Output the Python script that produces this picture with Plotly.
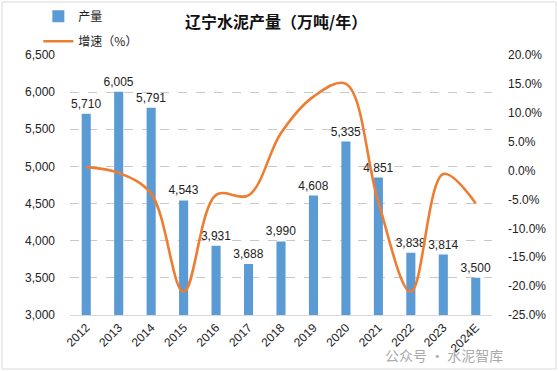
import plotly.graph_objects as go

years = ["2012", "2013", "2014", "2015", "2016", "2017", "2018", "2019", "2020", "2021", "2022", "2023", "2024E"]
output = [5710, 6005, 5791, 4543, 3931, 3688, 3990, 4608, 5335, 4851, 3838, 3814, 3500]
growth = [0.6, -0.4, -4.0, -21.0, -4.2, -4.3, 6.5, 12.8, 15.0, -5.5, -21.0, -0.6, -5.7]

left_ticks = [3000, 3500, 4000, 4500, 5000, 5500, 6000, 6500]
right_ticks = [-25, -20, -15, -10, -5, 0, 5, 10, 15, 20]

FONT = "Liberation Sans, Noto Sans CJK SC, sans-serif"
CJK = "Noto Sans CJK SC, sans-serif"

fig = go.Figure()
fig.add_trace(go.Bar(
    x=years, y=output, name="产量", width=0.28, legendgroup="a",
    marker=dict(color="#5B9BD5", line=dict(width=0)),
    text=[f"{v:,}" for v in output], textposition="outside", constraintext="none",
    textfont=dict(size=12, color="#222222", family=FONT),
    cliponaxis=False, yaxis="y",
))
fig.add_trace(go.Scatter(
    x=years, y=growth, name="增速（%）", mode="lines", legendgroup="b",
    line=dict(color="#ED7D31", width=2.6, shape="spline", smoothing=1.0),
    yaxis="y2",
))

fig.update_layout(
    width=558, height=371,
    margin=dict(l=70, r=66, t=55, b=56, autoexpand=False),
    paper_bgcolor="white", plot_bgcolor="white",
    font=dict(family=FONT, size=12, color="#222222"),
    title=dict(text="<b>辽宁水泥产量（万吨/年）</b>", x=0.495, xanchor="center", y=0.94, yanchor="middle",
               font=dict(family=CJK, size=16, color="#111111")),
    showlegend=True,
    legend=dict(x=-0.075, y=1.205, xanchor="left", yanchor="top", orientation="v",
                font=dict(family=CJK, size=12, color="#222222"), tracegroupgap=6,
                bgcolor="rgba(0,0,0,0)", itemwidth=30),
    bargap=0.7,
    xaxis=dict(type="category", tickangle=-45, showline=True, linecolor="#D9D9D9", linewidth=1,
               ticks="", tickfont=dict(size=12, family=FONT)),
    yaxis=dict(range=[3000, 6500], tickvals=left_ticks, tickformat=",", showgrid=True,
               gridcolor="#C8C8C8", griddash="dash", gridwidth=1, zeroline=False,
               showline=False, ticks="", ticklabelstandoff=14, tickfont=dict(size=12, family=FONT)),
    yaxis2=dict(range=[-25, 20], tickvals=right_ticks, ticktext=[f"{v:.1f}%" for v in right_ticks],
                overlaying="y", side="right", showgrid=False, zeroline=False, showline=False,
                ticks="", ticklabelstandoff=15, tickfont=dict(size=12, family=FONT)),
    annotations=[
        dict(text="公众号 · 水泥智库", xref="paper", yref="paper", x=1.03, y=-0.155,
             xanchor="right", yanchor="middle", showarrow=False,
             font=dict(family=CJK, size=14, color="#AAAAAA")),
    ],
    shapes=[
        dict(type="rect", xref="paper", yref="paper", x0=-68/422, x1=1+64/422, y0=-54/260, y1=1+53/260,
             line=dict(color="#D9D9D9", width=1), fillcolor="rgba(0,0,0,0)"),
    ],
)

fig.write_html("out.html", config={"displayModeBar": False},
               post_script="document.body.style.margin='0';")
